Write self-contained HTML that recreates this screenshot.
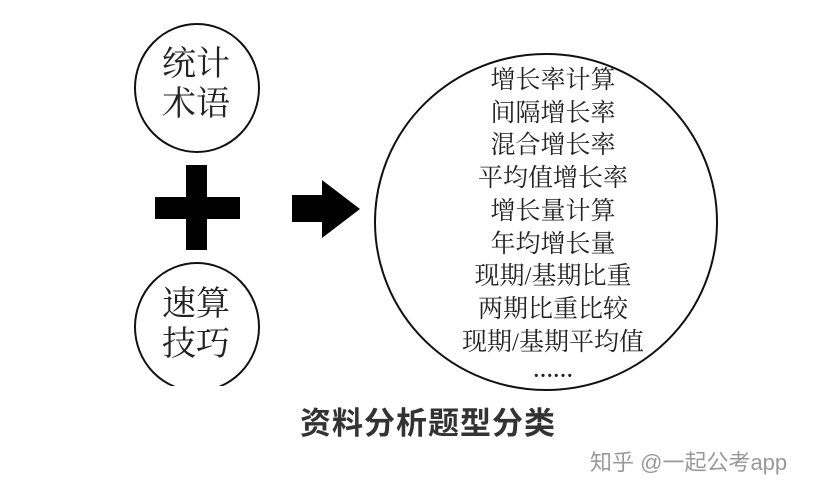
<!DOCTYPE html>
<html><head><meta charset="utf-8"><style>
html,body{margin:0;padding:0;background:#fff;}
#c{position:relative;width:828px;height:492px;overflow:hidden;background:#fff;}
.t{position:absolute;font-family:"Liberation Serif","Noto Serif CJK SC",serif;color:#222;white-space:nowrap;}
</style></head><body><div id="c">
<svg width="828" height="492" style="position:absolute;left:0;top:0">
<ellipse cx="197" cy="88" rx="62" ry="64" fill="none" stroke="#111" stroke-width="2"/>
<ellipse cx="197" cy="327" rx="62" ry="64" fill="none" stroke="#111" stroke-width="2"/>
<rect x="130" y="386" width="140" height="8" fill="#fff"/>
<rect x="186" y="165" width="21" height="85" fill="#000"/>
<rect x="155" y="197" width="85" height="22" fill="#000"/>
<polygon points="292,195 322,195 322,180 360,209 322,238 322,222 292,222" fill="#000"/>
<ellipse cx="546" cy="222" rx="171" ry="168" fill="none" stroke="#111" stroke-width="2"/>
</svg>
<div class="t" style="left:162px;top:45px;font-size:34px;line-height:40px;">统计<br>术语</div>
<div class="t" style="left:162px;top:285px;font-size:34px;line-height:40px;">速算<br>技巧</div>
<div class="t" style="left:440px;top:65px;width:226px;text-align:center;font-size:25px;line-height:32.7px;">增长率计算<br>间隔增长率<br>混合增长率<br>平均值增长率<br>增长量计算<br>年均增长量<br>现期/基期比重<br>两期比重比较<br>现期/基期平均值</div>
<div class="t" style="left:440px;top:360px;width:226px;text-align:center;font-size:20px;font-weight:bold;">……</div>
<div class="t" style="left:300px;top:398px;font-family:'Liberation Sans','Noto Sans CJK SC',sans-serif;font-size:31px;font-weight:bold;color:#333;letter-spacing:1px;">资料分析题型分类</div>
<div class="t" style="left:590px;top:445px;font-family:'Liberation Sans','Noto Sans CJK SC',sans-serif;font-size:22px;color:#999;">知乎 @一起公考app</div>
</div></body></html>
